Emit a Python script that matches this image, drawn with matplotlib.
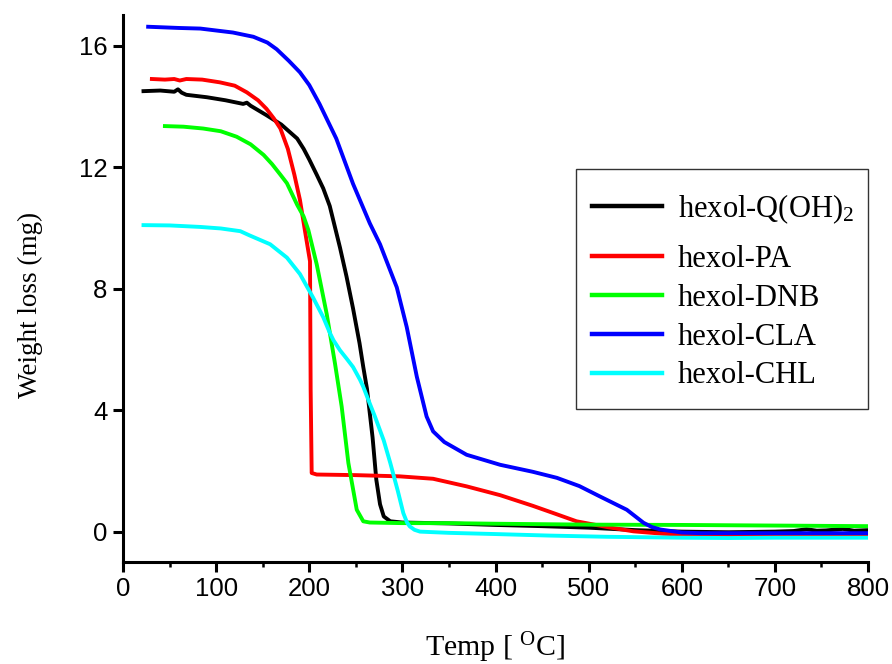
import matplotlib
matplotlib.use("Agg")
import matplotlib.pyplot as plt
from matplotlib.patches import Rectangle
from matplotlib.ticker import MultipleLocator

# TGA curves: temperature (deg C) and sample weight (mg)
q_temp = [22, 40, 55, 59, 63, 68, 90, 110, 129, 133, 137, 154, 170, 187, 194, 200, 208, 215,
          222, 233, 240, 247, 254, 258, 262, 265, 268, 272, 276, 280, 287, 300, 350, 400,
          450, 500, 550, 600, 650, 700, 720, 734, 745, 755, 773, 785, 800]
q_weight = [14.5, 14.52, 14.48, 14.56, 14.45, 14.38, 14.3, 14.2, 14.08, 14.12, 14.02, 13.71,
            13.4, 12.94, 12.6, 12.25, 11.75, 11.3, 10.72, 9.35, 8.4, 7.35, 6.2, 5.42, 4.7,
            3.9, 3.1, 1.71, 0.9, 0.5, 0.34, 0.3, 0.27, 0.22, 0.18, 0.13, 0.05, 0.0, -0.02,
            0.0, 0.02, 0.08, 0.03, 0.04, 0.09, 0.03, 0.05]

pa_temp = [31, 45, 55, 61, 68, 85, 104, 120, 133, 145, 154, 162, 169, 177, 184, 190, 195.4,
           200.8, 201.5, 202.6, 208, 250, 297, 333, 369, 405, 440, 465, 487, 520, 548, 580,
           620, 680, 740, 800]
pa_weight = [14.9, 14.88, 14.9, 14.85, 14.9, 14.88, 14.79, 14.68, 14.46, 14.2, 13.92, 13.6,
             13.27, 12.6, 11.75, 10.92, 9.9, 8.9, 4.67, 1.93, 1.88, 1.86, 1.82, 1.74, 1.49,
             1.2, 0.85, 0.58, 0.34, 0.15, 0.01, -0.07, -0.12, -0.12, -0.1, -0.08]

dnb_temp = [45, 65, 86, 105, 122, 137, 151, 160, 169, 176, 187, 194, 199, 208, 218.7, 227.6,
            234.8, 242, 251, 258, 265, 300, 350, 400, 500, 600, 700, 800]
dnb_weight = [13.35, 13.33, 13.27, 13.18, 13.0, 12.75, 12.4, 12.1, 11.75, 11.47, 10.76,
              10.37, 9.93, 8.8, 7.17, 5.54, 4.12, 2.26, 0.72, 0.34, 0.3, 0.28, 0.28, 0.26,
              0.23, 0.22, 0.2, 0.18]

cla_temp = [27, 60, 83, 118, 140, 155, 165, 178, 190, 200, 211, 229, 247, 265, 276, 285,
            294, 304.7, 315.5, 326, 333, 345, 369, 405, 440, 466, 490, 512, 541, 559, 568,
            577, 600, 620, 700, 800]
cla_weight = [16.62, 16.58, 16.56, 16.43, 16.29, 16.1, 15.88, 15.5, 15.12, 14.7, 14.08,
              12.94, 11.45, 10.15, 9.46, 8.75, 8.04, 6.73, 5.1, 3.79, 3.3, 2.95, 2.53, 2.2,
              1.97, 1.77, 1.5, 1.16, 0.72, 0.29, 0.15, 0.07, -0.03, -0.05, -0.05, -0.05]

chl_temp = [22, 50, 83, 105, 126, 136, 158, 176, 190, 204, 215, 222, 226, 233, 240, 247,
            254.5, 258, 263.4, 270.5, 280, 287, 295, 301, 305, 308, 313, 319, 350, 400, 458,
            520, 600, 650, 700, 800]
chl_weight = [10.09, 10.08, 10.03, 9.98, 9.89, 9.75, 9.46, 9.02, 8.48, 7.71, 7.06, 6.55,
              6.3, 5.97, 5.7, 5.42, 5.0, 4.77, 4.34, 3.79, 3.0, 2.26, 1.35, 0.61, 0.3, 0.17,
              0.06, 0.0, -0.04, -0.08, -0.13, -0.17, -0.2, -0.21, -0.2, -0.2]

series = [
    (q_temp, q_weight, "hexol-Q(OH)$_2$", "black"),
    (pa_temp, pa_weight, "hexol-PA", "#ff0000"),
    (dnb_temp, dnb_weight, "hexol-DNB", "#00ff00"),
    (cla_temp, cla_weight, "hexol-CLA", "#0000ff"),
    (chl_temp, chl_weight, "hexol-CHL", "#00ffff"),
]

plt.rcParams["mathtext.fontset"] = "custom"
plt.rcParams["mathtext.rm"] = "Liberation Serif"
plt.rcParams["mathtext.it"] = "Liberation Serif:italic"

fig = plt.figure(figsize=(8.92, 6.64), dpi=100)
ax = fig.add_axes([0.1379, 0.1536, 0.8352, 0.8235])

for temp, weight, name, color in series:
    ax.plot(temp, weight, color=color, linewidth=2.8, label=name)

ax.set_xlim(0, 800)
ax.set_ylim(-1, 17)
ax.set_xticks(range(0, 801, 100))
ax.set_yticks([0, 4, 8, 12, 16])
ax.xaxis.set_minor_locator(MultipleLocator(50))

for side in ["top", "right"]:
    ax.spines[side].set_visible(False)
for side in ["left", "bottom"]:
    ax.spines[side].set_linewidth(2.2)

ax.tick_params(which="major", direction="out", length=7, width=2.2, pad=4)
ax.tick_params(which="minor", direction="out", length=3.5, width=1.8)
for lbl in ax.get_xticklabels() + ax.get_yticklabels():
    lbl.set_fontfamily("Liberation Sans")
    lbl.set_fontsize(18.5)

ax.set_xlabel("Temp [ $^{\\mathrm{O}}$C]", family="Liberation Serif", fontsize=21.5)
ax.set_ylabel("Weight loss (mg)", family="Liberation Serif", fontsize=19.5)
ax.xaxis.set_label_coords(0.499, -0.125)
ax.yaxis.set_label_coords(-0.108, 0.47)

# legend in two blocks (the subscripted first entry sits a little apart),
# frame drawn separately around both
handles, labels = ax.get_legend_handles_labels()
leg_opts = dict(loc="upper left", bbox_transform=fig.transFigure, frameon=False,
                prop={"family": "Liberation Serif", "size": 22},
                handlelength=2.3, handletextpad=0.52, labelspacing=0.32,
                borderpad=0, borderaxespad=0)
leg_top = ax.legend(handles[:1], labels[:1],
                    bbox_to_anchor=(592 / 892, 1 - 192 / 664), **leg_opts)
ax.add_artist(leg_top)
leg_rest = ax.legend(handles[1:], labels[1:],
                     bbox_to_anchor=(592 / 892, 1 - 245 / 664), **leg_opts)
for leg in (leg_top, leg_rest):
    for line in leg.get_lines():
        line.set_linewidth(3.2)

box = Rectangle((576 / 892, 1 - 409 / 664), 292 / 892, 240 / 664,
                transform=fig.transFigure, fill=False, edgecolor="#333333",
                linewidth=1.0)
fig.patches.append(box)

fig.savefig("out.png", dpi=100)
